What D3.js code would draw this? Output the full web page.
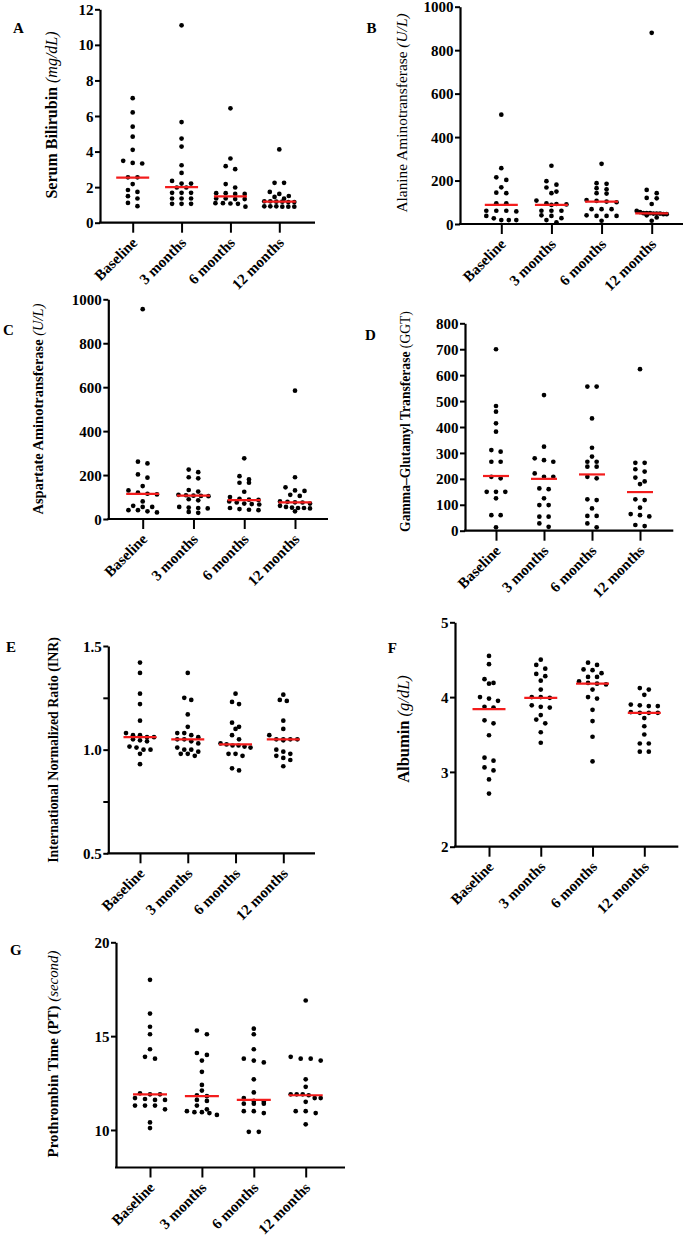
<!DOCTYPE html>
<html>
<head>
<meta charset="utf-8">
<script src="https://cdn.jsdelivr.net/npm/d3@7"></script>
<style>
  html, body { margin: 0; padding: 0; background: #fff; }
  svg { display: block; }
  text { font-family: "Liberation Serif", "Times New Roman", serif; fill: #000; }
</style>
</head>
<body>
<svg id="chart" width="688" height="1240"></svg>
<script>
// ---------------- DATA ----------------
const categories = ["Baseline", "3 months", "6 months", "12 months"];

const bilirubin = [
  [7.0, 6.2, 5.4, 4.84, 4.1, 3.48, 3.36, 3.33, 2.55, 2.55, 2.17, 1.84, 1.73, 1.49, 1.36, 1.11, 0.93],
  [11.1, 5.66, 4.73, 4.28, 3.23, 2.8, 2.35, 2.2, 2.2, 1.98, 1.98, 1.68, 1.68, 1.68, 1.36, 1.36, 1.36, 1.06, 1.06, 1.06],
  [6.43, 3.61, 3.18, 3.01, 2.17, 1.98, 1.62, 1.62, 1.66, 1.66, 1.36, 1.33, 1.36, 1.33, 1.08, 1.1, 1.06, 1.1, 0.9],
  [4.12, 2.24, 2.24, 1.73, 1.62, 1.5, 1.45, 1.35, 1.2, 1.18, 1.18, 1.2, 1.16, 1.16, 0.92, 0.9, 0.92, 0.9, 0.9, 0.92]
];
const bilirubinMedian = [2.53, 2.0, 1.48, 1.18];
const bilirubinTicks = [0, 2, 4, 6, 8, 10, 12];

const alt = [
  [503, 257, 215, 203, 169, 144, 142, 95, 95, 61, 61, 61, 58, 37, 26, 18, 18, 18],
  [268, 197, 181, 168, 149, 142, 108, 95, 92, 90, 88, 61, 61, 61, 40, 37, 27, 18, 8],
  [277, 188, 185, 165, 160, 142, 140, 110, 106, 103, 100, 68, 68, 68, 40, 37, 37, 37, 15],
  [880, 157, 142, 120, 118, 92, 60, 55, 50, 50, 50, 48, 48, 48, 45, 45, 40, 30, 15]
];
const altMedian = [88, 88, 103, 49];
const altTicks = [0, 200, 400, 600, 800, 1000];

const ast = [
  [955, 261, 253, 203, 188, 150, 130, 120, 115, 112, 80, 60, 55, 55, 40, 40, 35, 30],
  [225, 213, 190, 185, 132, 125, 110, 108, 106, 105, 104, 90, 85, 55, 52, 50, 48, 32, 28],
  [276, 195, 180, 165, 165, 124, 100, 92, 88, 87, 80, 75, 70, 68, 66, 50, 45, 42, 40],
  [584, 190, 144, 130, 128, 110, 105, 80, 78, 76, 75, 70, 60, 55, 52, 50, 50, 48, 35]
];
const astMedian = [114, 106, 86, 76];
const astTicks = [0, 200, 400, 600, 800, 1000];

const ggt = [
  [700, 481, 459, 414, 382, 311, 305, 266, 266, 208, 202, 150, 150, 150, 125, 60, 60, 13],
  [523, 324, 279, 272, 266, 221, 208, 208, 163, 160, 125, 99, 99, 54, 54, 28, 15],
  [556, 556, 433, 320, 286, 266, 266, 247, 247, 208, 202, 121, 118, 86, 57, 57, 28, 13],
  [623, 262, 262, 237, 228, 205, 190, 180, 121, 118, 89, 64, 60, 55, 22, 18]
];
const ggtMedian = [211, 200, 217, 149];
const ggtTicks = [0, 100, 200, 300, 400, 500, 600, 700, 800];

const inr = [
  [1.42, 1.37, 1.27, 1.22, 1.14, 1.08, 1.07, 1.07, 1.06, 1.06, 1.05, 1.045, 1.04, 1.015, 1.01, 1.0, 1.0, 0.98, 0.93],
  [1.37, 1.25, 1.24, 1.17, 1.11, 1.08, 1.08, 1.07, 1.06, 1.05, 1.05, 1.04, 1.03, 1.01, 1.0, 1.0, 0.99, 0.98, 0.98, 0.97],
  [1.27, 1.23, 1.22, 1.13, 1.11, 1.10, 1.07, 1.05, 1.03, 1.025, 1.02, 1.02, 1.015, 1.01, 0.98, 0.97, 0.98, 0.91, 0.9],
  [1.265, 1.24, 1.235, 1.14, 1.1, 1.07, 1.05, 1.05, 1.05, 1.05, 1.045, 1.0, 0.99, 0.98, 0.97, 0.96, 0.95, 0.92]
];
const inrMedian = [1.06, 1.05, 1.025, 1.05];
const inrTicks = [0.5, 1.0, 1.5];
const inrMinorTicks = [0.75, 1.25];

const albumin = [
  [4.55, 4.44, 4.24, 4.19, 4.18, 4.0, 3.98, 3.95, 3.87, 3.86, 3.69, 3.65, 3.49, 3.19, 3.15, 3.06, 3.02, 2.9, 2.71],
  [4.5, 4.43, 4.38, 4.31, 4.28, 4.22, 4.1, 4.0, 4.0, 3.99, 3.89, 3.87, 3.86, 3.76, 3.7, 3.65, 3.53, 3.39],
  [4.46, 4.43, 4.37, 4.36, 4.32, 4.27, 4.27, 4.21, 4.19, 4.18, 4.17, 4.1, 4.0, 3.98, 3.83, 3.68, 3.47, 3.14],
  [4.12, 4.1, 4.03, 3.9, 3.89, 3.88, 3.88, 3.8, 3.79, 3.79, 3.79, 3.72, 3.61, 3.5, 3.38, 3.38, 3.27, 3.27]
];
const albuminMedian = [3.84, 3.99, 4.18, 3.79];
const albuminTicks = [2, 3, 4, 5];

const pt = [
  [18.0, 16.2, 15.5, 15.1, 14.3, 13.9, 13.8, 11.95, 11.9, 11.9, 11.7, 11.65, 11.6, 11.6, 11.3, 11.3, 11.3, 11.1, 10.4, 10.1],
  [15.3, 15.1, 14.1, 14.0, 13.7, 13.1, 12.4, 12.1, 11.85, 11.8, 11.6, 11.55, 11.3, 11.1, 11.0, 10.95, 10.95, 10.9, 10.8],
  [15.4, 15.1, 14.3, 13.8, 13.7, 13.6, 12.7, 12.0, 11.7, 11.55, 11.5, 11.4, 11.4, 11.4, 11.0, 11.0, 10.9, 9.9, 9.9],
  [16.9, 13.9, 13.8, 13.8, 13.7, 12.7, 12.3, 11.9, 11.9, 11.9, 11.85, 11.7, 11.7, 11.5, 11.0, 11.0, 10.9, 10.3]
];
const ptMedian = [11.9, 11.8, 11.6, 11.85];
const ptTicks = [10, 15, 20];

// ---------------- LAYOUT ----------------
const panels = [
  { letter: "A", values: bilirubin, medians: bilirubinMedian, ticks: bilirubinTicks, minor: [], domain: [0, 12], fmt: d3.format("d"),
    ax: 100, yTop: 9.3, yBot: 222.7, c0: 132.7, c1: 279.3, axEnd: 315, lx: 13, ly: 33,
    title: [["Serum Bilirubin ", "bold", "normal"], ["(mg/dL)", "normal", "italic"]], tx: 51.7, ty: 115, ts: 16, sp: 9.5, mw: 33 },
  { letter: "B", values: alt, medians: altMedian, ticks: altTicks, minor: [], domain: [0, 1000], fmt: d3.format("d"),
    ax: 460, yTop: 6.7, yBot: 224, c0: 501.3, c1: 651.7, axEnd: 683, lx: 366.5, ly: 33,
    title: [["Alanine Aminotransferase ", "normal", "normal"], ["(U/L)", "normal", "italic"]], tx: 401.7, ty: 113, ts: 15.4, sp: 10, mw: 33 },
  { letter: "C", values: ast, medians: astMedian, ticks: astTicks, minor: [], domain: [0, 1000], fmt: d3.format("d"),
    ax: 108.3, yTop: 299.3, yBot: 519, c0: 142.7, c1: 295, axEnd: 328, lx: 3, ly: 335,
    title: [["Aspartate Aminotransferase  ", "bold", "normal"], ["(U/L)", "normal", "italic"]], tx: 38.3, ty: 409, ts: 14.5, sp: 9.5, mw: 33 },
  { letter: "D", values: ggt, medians: ggtMedian, ticks: ggtTicks, minor: [], domain: [0, 800], fmt: d3.format("d"),
    ax: 465, yTop: 323.3, yBot: 530.7, c0: 496, c1: 640, axEnd: 673.3, lx: 365, ly: 340,
    title: [["Gamma\u2013Glutamyl Transferase ", "bold", "normal"], ["(GGT)", "normal", "normal"]], tx: 405, ty: 421.5, ts: 13.6, sp: 9.3, mw: 26 },
  { letter: "E", values: inr, medians: inrMedian, ticks: inrTicks, minor: inrMinorTicks, domain: [0.5, 1.5], fmt: d3.format(".1f"),
    ax: 108.3, yTop: 646, yBot: 853.3, c0: 140, c1: 283.3, axEnd: 315, lx: 6, ly: 652,
    title: [["International Normalized Ratio (INR)", "bold", "normal"]], tx: 52.7, ty: 750, ts: 13.9, sp: 7, mw: 33 },
  { letter: "F", values: albumin, medians: albuminMedian, ticks: albuminTicks, minor: [], domain: [2, 5], fmt: d3.format("d"),
    ax: 455, yTop: 622.3, yBot: 846.7, c0: 489, c1: 644.3, axEnd: 678.3, lx: 387.7, ly: 652.7,
    title: [["Albumin ", "bold", "normal"], ["(g/dL)", "normal", "italic"]], tx: 403.3, ty: 729, ts: 16.5, sp: 9, mw: 33 },
  { letter: "G", values: pt, medians: ptMedian, ticks: ptTicks, minor: [], domain: [8, 20], fmt: d3.format("d"),
    ax: 116, yTop: 942.3, yBot: 1167.5, c0: 150, c1: 305.7, axEnd: 345, lx: 10, ly: 955,
    title: [["Prothrombin Time (PT) ", "bold", "normal"], ["(second)", "normal", "italic"]], tx: 52.7, ty: 1054, ts: 14.9, sp: 10, mw: 34 }
];

const svg = d3.select("#chart");
const RED = "#f31c1c";
const R = 2.35;

// Prism-like row layout: points within rowH px share a row, spread horizontally
function swarm(vals, y, sp, rowH, maxW) {
  const items = vals.map(v => ({ v, py: y(v) })).sort((a, b) => a.py - b.py);
  const rows = [];
  items.forEach(it => {
    const last = rows[rows.length - 1];
    if (last && Math.abs(it.py - last[0].py) <= rowH) last.push(it);
    else rows.push([it]);
  });
  rows.forEach(row => {
    const n = row.length;
    const s = n > 1 ? Math.min(sp, maxW / (n - 1)) : 0;
    row.forEach((it, k) => { it.dx = (k - (n - 1) / 2) * s; });
  });
  return items;
}

panels.forEach(p => {
  const g = svg.append("g");
  const y = d3.scaleLinear().domain(p.domain).range([p.yBot, p.yTop]);
  const x = d3.scalePoint().domain(categories).range([p.c0, p.c1]);

  // Y axis
  const yAxis = g.append("g").attr("transform", `translate(${p.ax},0)`)
    .call(d3.axisLeft(y).tickValues(p.ticks).tickSize(5).tickSizeOuter(0).tickFormat(p.fmt));
  yAxis.select(".domain").attr("stroke", "#000").attr("stroke-width", 2.2);
  yAxis.selectAll(".tick line").attr("stroke", "#000").attr("stroke-width", 2);
  yAxis.selectAll(".tick text").attr("x", -6.5).attr("dy", "0.34em")
    .style("font-family", "Liberation Serif").style("font-weight", "bold").style("font-size", "15px");
  if (p.minor.length) {
    g.append("g").attr("transform", `translate(${p.ax},0)`)
      .call(d3.axisLeft(y).tickValues(p.minor).tickSize(5).tickFormat(""))
      .call(s => s.select(".domain").remove())
      .selectAll(".tick line").attr("stroke", "#000").attr("stroke-width", 2);
  }

  // X axis line (from y axis to the right end)
  g.append("line").attr("x1", p.ax - 1).attr("x2", p.axEnd)
    .attr("y1", p.yBot).attr("y2", p.yBot).attr("stroke", "#000").attr("stroke-width", 2.2);
  const xAxis = g.append("g").attr("transform", `translate(0,${p.yBot})`)
    .call(d3.axisBottom(x).tickSize(10).tickSizeOuter(0));
  xAxis.select(".domain").remove();
  xAxis.selectAll(".tick line").attr("stroke", "#000").attr("stroke-width", 2);
  xAxis.selectAll(".tick text")
    .attr("x", 0).attr("y", 0).attr("dy", 0)
    .attr("text-anchor", "end")
    .attr("transform", "translate(5,21) rotate(-45)")
    .style("font-family", "Liberation Serif").style("font-weight", "bold").style("font-size", "15px");

  // points
  p.values.forEach((vals, ci) => {
    const cx = x(categories[ci]);
    const pts = swarm(vals, y, p.sp, 4.3, 30);
    g.append("g").selectAll("circle").data(pts).join("circle")
      .attr("cx", d => cx + d.dx).attr("cy", d => d.py).attr("r", R).attr("fill", "#000");
  });

  // medians
  g.append("g").selectAll("line").data(p.medians).join("line")
    .attr("x1", (d, i) => x(categories[i]) - p.mw / 2)
    .attr("x2", (d, i) => x(categories[i]) + p.mw / 2)
    .attr("y1", d => y(d)).attr("y2", d => y(d))
    .attr("stroke", RED).attr("stroke-width", 2.2);

  // panel letter
  g.append("text").attr("x", p.lx).attr("y", p.ly).text(p.letter)
    .style("font-weight", "bold").style("font-size", "15px");

  // axis title
  const t = g.append("text")
    .attr("transform", `translate(${p.tx},${p.ty}) rotate(-90)`)
    .attr("text-anchor", "middle").attr("dy", "0.35em")
    .style("font-size", p.ts + "px");
  p.title.forEach(([txt, w, st]) => {
    t.append("tspan").text(txt).style("font-weight", w).style("font-style", st);
  });
});
</script>
</body>
</html>
